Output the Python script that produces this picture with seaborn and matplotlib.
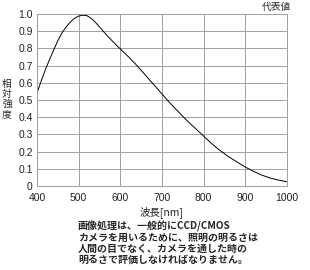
import matplotlib
matplotlib.use("Agg")
import matplotlib.pyplot as plt
import seaborn as sns
import pandas as pd

wavelength = [400, 410, 420, 430, 440, 450, 460, 470, 480, 490, 500, 510, 520, 530, 540, 550, 560,
              570, 580, 590, 600, 620, 640, 660, 680, 700, 720, 740, 760, 780, 800, 820, 840, 860, 880,
              900, 920, 940, 960, 980, 1000]
intensity = [0.54, 0.61, 0.675, 0.735, 0.79, 0.845, 0.89, 0.925, 0.953, 0.975, 0.988, 0.993, 0.99, 0.975,
             0.952, 0.925, 0.897, 0.87, 0.845, 0.82, 0.797, 0.75, 0.70, 0.645, 0.59, 0.535, 0.48, 0.43,
             0.38, 0.335, 0.29, 0.245, 0.205, 0.17, 0.14, 0.11, 0.085, 0.063, 0.046, 0.034, 0.025]
xticks = [400, 500, 600, 700, 800, 900, 1000]
yticks = [0, 0.1, 0.2, 0.3, 0.4, 0.5, 0.6, 0.7, 0.8, 0.9, 1.0]
ytick_labels = ["0", "0.1", "0.2", "0.3", "0.4", "0.5", "0.6", "0.7", "0.8", "0.9", "1.0"]

sns.set_style("white")
plt.rcParams['font.family'] = ['Noto Sans CJK JP', 'DejaVu Sans']

df = pd.DataFrame({"wavelength": wavelength, "intensity": intensity})

fig = plt.figure(figsize=(3.1, 2.7), dpi=100)
ax = fig.add_axes([37 / 310, 1 - 186 / 270, 250 / 310, 172 / 270])
sns.lineplot(data=df, x="wavelength", y="intensity", ax=ax, color="black", linewidth=0.7)
ax.set_xlim(400, 1000)
ax.set_ylim(0, 1.0)
ax.set_xticks(xticks)
ax.set_yticks(yticks)
ax.set_yticklabels(ytick_labels)
ax.grid(True, color="#a0a0a0", linewidth=0.7)
for s in ax.spines.values():
    s.set_color("#a0a0a0")
    s.set_linewidth(0.7)
ax.tick_params(length=0, labelsize=7.5, colors="#222222")
ax.tick_params(axis="x", pad=5)
ax.tick_params(axis="y", pad=3)
for lab in ax.get_xticklabels() + ax.get_yticklabels():
    lab.set_family(["Liberation Sans", "DejaVu Sans"])
ax.set_xlabel("")
ax.set_ylabel("")

fig.text(291 / 310, 1 - 7 / 270, "代表値", ha="right", va="center", fontsize=7)
fig.text(7 / 310, 1 - 99 / 270, "相\n対\n強\n度", ha="center", va="center", fontsize=7, linespacing=1.0)
fig.text(162 / 310, 1 - 212 / 270, "波長[nm]", ha="center", va="center", fontsize=7.5)
fig.text(78 / 310, 1 - 221 / 270,
         "画像処理は、一般的にCCD/CMOS\nカメラを用いるために、照明の明るさは\n人間の目でなく、カメラを通した時の\n明るさで評価しなければなりません。",
         ha="left", va="top", fontsize=7.2, linespacing=1.12, fontweight="bold")

fig.savefig("out.png", dpi=100)
